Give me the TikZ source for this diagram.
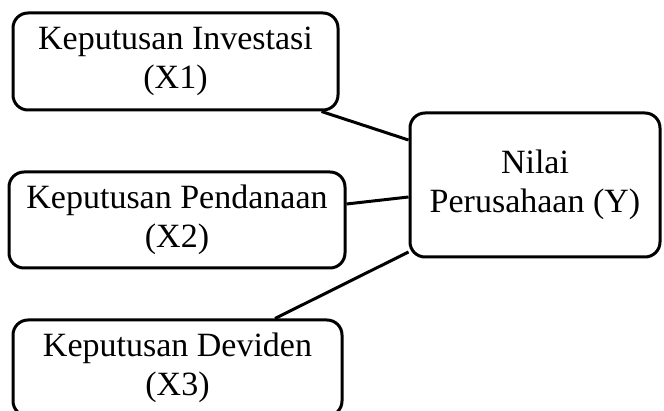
\documentclass[tikz,border=0pt]{standalone}
\usepackage{fontspec}
\setmainfont{Liberation Serif}
\usepackage{tikz}
\usetikzlibrary{
    calc,
    positioning,
}
\tikzset{
    variabel/.style={
        draw=black, line width=3pt, rounded corners=15pt,
        align=center, inner sep=0pt, yshift=-3pt,
        font=\fontsize{34}{38.5}\selectfont,
    },
    hubungan/.style={draw=black, line width=3pt},
}

\begin{document}
\begin{tikzpicture}[x=1pt, y=-1pt]
    \useasboundingbox (0,0) rectangle (664,411);
    \node[variabel, minimum width=325pt, minimum height=97pt] (x1) at (175.5,58.5)
        {Keputusan Investasi\\(X1)};
    \node[variabel, minimum width=336pt, minimum height=96pt] (x2) at (177,217)
        {Keputusan Pendanaan\\(X2)};
    \node[variabel, minimum width=329pt, minimum height=96pt] (x3) at (177.5,365)
        {Keputusan Deviden\\(X3)};
    \node[variabel, minimum width=250pt, minimum height=144pt] (y) at (535,182)
        {Nilai\\Perusahaan (Y)};
    % garis antar variabel
    \draw[hubungan] ([xshift=-18pt]x1.south east) -- ([yshift=45pt]y.west);
    \draw[hubungan] ([yshift=16pt]x2.east) -- ([yshift=-12pt]y.west);
    \draw[hubungan] ([xshift=97.5pt]x3.north) -- ([yshift=-67pt]y.west);
\end{tikzpicture}
\end{document}
